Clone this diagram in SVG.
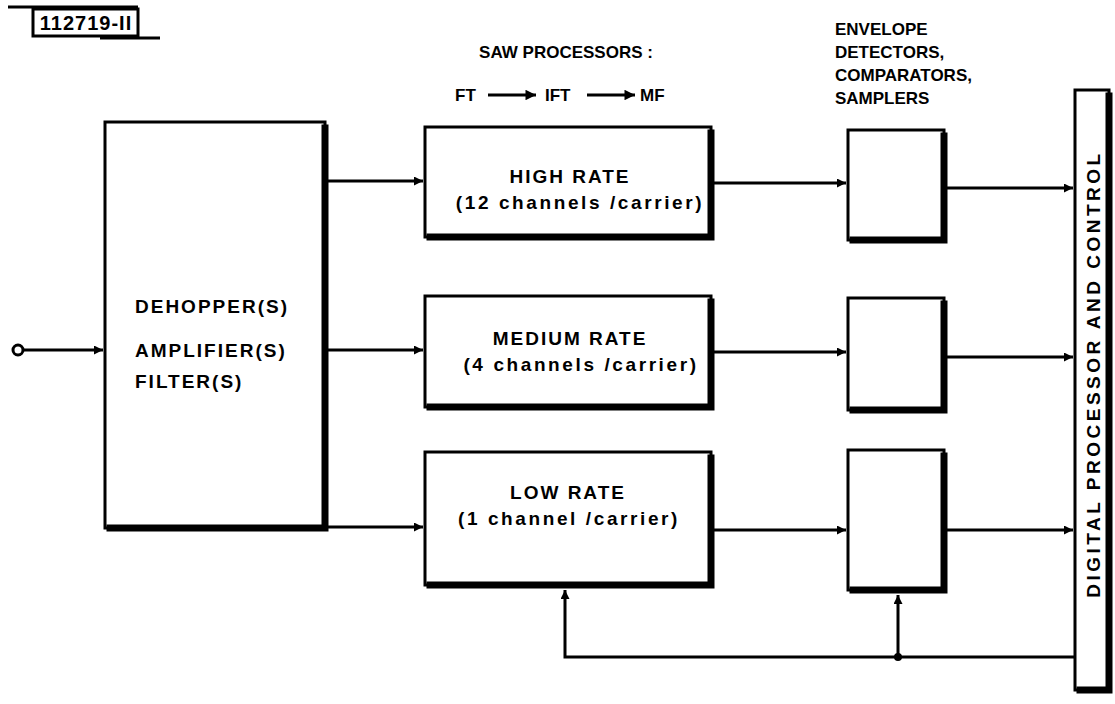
<svg xmlns="http://www.w3.org/2000/svg" width="1115" height="704" viewBox="0 0 1115 704">
<style>
text{font-family:"Liberation Sans","DejaVu Sans",sans-serif;font-weight:bold;fill:#000;}
.t{font-size:17px;}
.b{font-size:19px;letter-spacing:2px;}
.l{font-size:19px;letter-spacing:2.6px;}
.c{text-anchor:middle;}
.box{fill:#fff;stroke:#000;stroke-width:3;}
.sh{fill:none;stroke:#000;stroke-width:7;stroke-linecap:square;}
.ln{fill:none;stroke:#000;stroke-width:3;}
</style>
<defs>
<marker id="a" viewBox="0 0 10 10" refX="10" refY="5" markerWidth="5" markerHeight="3" markerUnits="strokeWidth" orient="auto">
<path d="M0,0 L10,5 L0,10 Z" fill="#000"/>
</marker>
<marker id="s" viewBox="0 0 10 10" refX="10" refY="5" markerWidth="6" markerHeight="3.5" markerUnits="strokeWidth" orient="auto">
<path d="M0,0 L10,5 L0,10 Z" fill="#000"/>
</marker>
</defs>
<g id="label">
<rect x="33" y="9" width="105" height="27" fill="none" stroke="#000" stroke-width="3"/>
<line x1="8" y1="7" x2="138" y2="7" class="ln" stroke-width="2"/>
<line x1="100" y1="38" x2="160" y2="38" class="ln" stroke-width="2"/>
<text x="86" y="30" class="c" font-size="20" letter-spacing="1">112719-II</text>
</g>
<g id="headers">
<text x="566" y="58" class="t c">SAW PROCESSORS :</text>
<text x="455" y="101" class="t">FT</text>
<line x1="488" y1="95" x2="536" y2="95" class="ln" stroke-width="2" marker-end="url(#s)"/>
<text x="545" y="101" class="t">IFT</text>
<line x1="587" y1="95" x2="635" y2="95" class="ln" stroke-width="2" marker-end="url(#s)"/>
<text x="640" y="101" class="t">MF</text>
<text x="835" y="35" class="t">ENVELOPE</text>
<text x="835" y="58" class="t">DETECTORS,</text>
<text x="835" y="81" class="t">COMPARATORS,</text>
<text x="835" y="104" class="t">SAMPLERS</text>
</g>
<g id="input">
<circle cx="18" cy="350" r="5" fill="#fff" stroke="#000" stroke-width="3"/>
</g>
<g id="dehopper">
<rect class="box" x="105" y="122" width="220" height="406"/>
<polyline class="sh" points="325,128 325,528 110,528"/>
<text x="135" y="313" class="b">DEHOPPER(S)</text>
<text x="135" y="357" class="b">AMPLIFIER(S)</text>
<text x="135" y="388" class="b">FILTER(S)</text>
</g>
<g id="high">
<rect class="box" x="425" y="127" width="286" height="110"/>
<polyline class="sh" points="711,133 711,237 430,237"/>
<text x="570" y="183" class="b c">HIGH RATE</text>
<text x="580" y="209" class="l c">(12 channels /carrier)</text>
</g>
<g id="medium">
<rect class="box" x="425" y="296" width="286" height="111"/>
<polyline class="sh" points="711,302 711,407 430,407"/>
<text x="570" y="345" class="b c">MEDIUM RATE</text>
<text x="581" y="371" class="l c">(4 channels /carrier)</text>
</g>
<g id="low">
<rect class="box" x="425" y="452" width="286" height="133"/>
<polyline class="sh" points="711,458 711,585 430,585"/>
<text x="568" y="499" class="b c">LOW RATE</text>
<text x="569" y="525" class="l c">(1 channel /carrier)</text>
</g>
<g id="det1">
<rect class="box" x="848" y="130" width="96" height="110"/>
<polyline class="sh" points="944,136 944,240 853,240"/>
</g>
<g id="det2">
<rect class="box" x="848" y="298" width="96" height="112"/>
<polyline class="sh" points="944,304 944,410 853,410"/>
</g>
<g id="det3">
<rect class="box" x="848" y="450" width="96" height="140"/>
<polyline class="sh" points="944,456 944,590 853,590"/>
</g>
<g id="digital">
<rect class="box" x="1075" y="90" width="34" height="600"/>
<polyline class="sh" points="1109,96 1109,690 1080,690"/>
<text transform="translate(1100,374) rotate(-90)" class="c" font-size="19" letter-spacing="3.5">DIGITAL PROCESSOR AND CONTROL</text>
</g>
<g id="connectors">
<line class="ln" x1="23" y1="350" x2="103" y2="350" marker-end="url(#a)"/>
<line class="ln" x1="328" y1="181" x2="423" y2="181" marker-end="url(#a)"/>
<line class="ln" x1="328" y1="350" x2="423" y2="350" marker-end="url(#a)"/>
<line class="ln" x1="328" y1="527" x2="423" y2="527" marker-end="url(#a)"/>
<line class="ln" x1="714" y1="183" x2="846" y2="183" marker-end="url(#a)"/>
<line class="ln" x1="714" y1="352" x2="846" y2="352" marker-end="url(#a)"/>
<line class="ln" x1="714" y1="530" x2="846" y2="530" marker-end="url(#a)"/>
<line class="ln" x1="947" y1="188" x2="1073" y2="188" marker-end="url(#a)"/>
<line class="ln" x1="947" y1="357" x2="1073" y2="357" marker-end="url(#a)"/>
<line class="ln" x1="947" y1="530" x2="1073" y2="530" marker-end="url(#a)"/>
<polyline class="ln" points="1075,657 565,657 565,590" marker-end="url(#a)"/>
<line class="ln" x1="898" y1="657" x2="898" y2="595" marker-end="url(#a)"/>
<circle cx="898" cy="657" r="4" fill="#000"/>
</g>
</svg>
